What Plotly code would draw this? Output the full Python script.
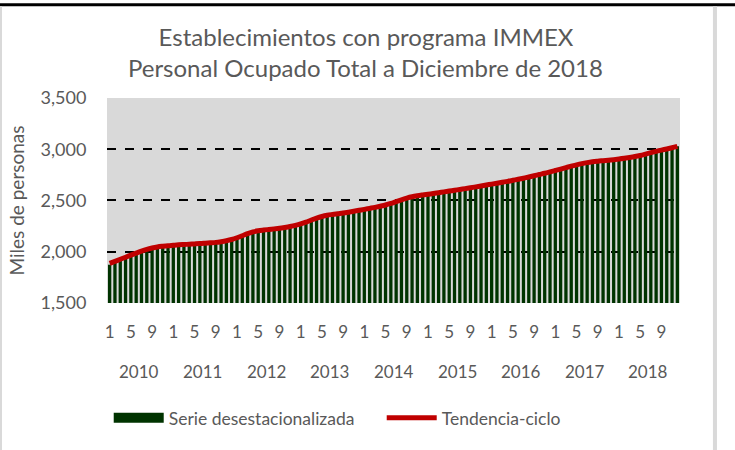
import plotly.graph_objects as go

years = ["2010", "2011", "2012", "2013", "2014", "2015", "2016", "2017", "2018"]
month_labels = ["1", "5", "9"]

serie_desest = [
    1872, 1898, 1921, 1940, 1962, 1983, 2001, 2020, 2030, 2044, 2050, 2055,
    2058, 2063, 2070, 2068, 2074, 2080, 2079, 2088, 2087, 2095, 2104, 2115,
    2133, 2152, 2170, 2193, 2198, 2212, 2213, 2220, 2225, 2238, 2240, 2252,
    2268, 2284, 2305, 2330, 2338, 2352, 2360, 2372, 2373, 2380, 2392, 2398,
    2410, 2418, 2430, 2440, 2450, 2468, 2483, 2503, 2520, 2532, 2540, 2550,
    2556, 2565, 2572, 2580, 2590, 2595, 2604, 2612, 2620, 2628, 2638, 2646,
    2655, 2664, 2675, 2683, 2692, 2702, 2714, 2726, 2738, 2750, 2762, 2774,
    2788, 2803, 2816, 2830, 2844, 2855, 2866, 2874, 2880, 2884, 2890, 2895,
    2900, 2908, 2915, 2925, 2935, 2948, 2962, 2975, 2988, 2998, 3010, 3030,
]

tendencia = [
    1885, 1905, 1925, 1945, 1965, 1985, 2005, 2022, 2035, 2045, 2052, 2058,
    2062, 2066, 2069, 2072, 2075, 2078, 2082, 2086, 2090, 2097, 2106, 2118,
    2135, 2155, 2175, 2192, 2203, 2210, 2216, 2222, 2228, 2236, 2245, 2256,
    2270, 2288, 2308, 2327, 2343, 2355, 2363, 2370, 2377, 2385, 2394, 2403,
    2412, 2422, 2432, 2443, 2455, 2470, 2488, 2506, 2522, 2535, 2545, 2553,
    2560, 2567, 2575, 2583, 2591, 2599, 2607, 2615, 2623, 2632, 2641, 2650,
    2659, 2668, 2677, 2686, 2696, 2706, 2717, 2729, 2741, 2753, 2765, 2778,
    2792, 2806, 2820, 2834, 2847, 2859, 2869, 2877, 2883, 2888, 2893, 2898,
    2904, 2911, 2919, 2928, 2939, 2952, 2966, 2979, 2991, 3002, 3014, 3028,
]

title_line1 = "Establecimientos con programa IMMEX"
title_line2 = "Personal Ocupado Total a Diciembre de 2018"

x = list(range(len(serie_desest)))
tickvals = [i for i in x if i % 4 == 0]
ticktext = [month_labels[(i % 12) // 4] for i in tickvals]

GREEN = "#003300"
RED = "#c00000"
GREY_TXT = "#595959"
FONT = "Lato"

fig = go.Figure()
fig.add_trace(go.Bar(x=x, y=serie_desest, marker=dict(color=GREEN, line=dict(width=0)),
                     name="Serie desestacionalizada", showlegend=False))
# legend proxy for the bar series (wide rectangle swatch)
fig.add_trace(go.Scatter(x=[None], y=[None], mode="lines",
                         line=dict(color=GREEN, width=12),
                         name="Serie desestacionalizada"))
fig.add_trace(go.Scatter(x=x, y=tendencia, mode="lines",
                         line=dict(color=RED, width=5, shape="spline"),
                         name="Tendencia-ciclo"))

annotations = [dict(x=0.452, y=1.151, xref="paper", yref="paper", text=title_line2,
                    showarrow=False, xanchor="center", yanchor="middle",
                    font=dict(family=FONT, size=24, color=GREY_TXT))]
for i, yr in enumerate(years):
    annotations.append(dict(x=i * 12 + 5.5, y=-0.335, xref="x", yref="paper",
                            text=yr, showarrow=False, yanchor="middle",
                            font=dict(family=FONT, size=17, color=GREY_TXT)))

shapes = [
    dict(type="rect", xref="paper", yref="paper", x0=-0.19, x1=1.1, y0=1.448, y1=1.462,
         line=dict(width=0), fillcolor="black"),
    dict(type="line", xref="paper", yref="paper", x0=1.061, x1=1.061, y0=-0.72, y1=1.448,
         line=dict(color="#d9d9d9", width=4)),
    dict(type="line", xref="paper", yref="paper", x0=-0.185, x1=-0.185, y0=-0.72, y1=1.448,
         line=dict(color="#d9d9d9", width=2)),
]

fig.update_layout(
    width=735, height=450,
    margin=dict(l=107, r=55, t=98, b=147, autoexpand=False),
    paper_bgcolor="white",
    plot_bgcolor="#d9d9d9",
    bargap=0.38,
    font=dict(family=FONT, color=GREY_TXT),
    title=dict(text=title_line1,
               x=0.452, xref="paper", xanchor="center", y=0.9156, yanchor="middle",
               font=dict(family=FONT, size=24, color=GREY_TXT)),
    xaxis=dict(range=[-0.5, len(x) - 0.5], tickvals=tickvals, ticktext=ticktext,
               showgrid=False, zeroline=False, showline=False, automargin=False,
               ticks="outside", ticklen=14, tickcolor="rgba(0,0,0,0)",
               tickfont=dict(family=FONT, size=17, color=GREY_TXT)),
    yaxis=dict(range=[1498, 3500], tickvals=[1500, 2000, 2500, 3000, 3500],
               tickformat=",", showgrid=True, gridcolor="black", griddash="dash", gridwidth=1.5,
               zeroline=False, showline=False, automargin=False,
               ticks="outside", ticklen=16, tickcolor="rgba(0,0,0,0)",
               tickfont=dict(family=FONT, size=18, color=GREY_TXT),
               title=dict(text="Miles de personas", standoff=10,
                          font=dict(family=FONT, size=19, color=GREY_TXT))),
    legend=dict(orientation="h", x=0.003, xanchor="left", y=-0.56, yanchor="middle",
                font=dict(family=FONT, size=17.5, color=GREY_TXT), itemwidth=50,
                entrywidth=208, entrywidthmode="pixels",
                tracegroupgap=0, bgcolor="rgba(0,0,0,0)"),
    annotations=annotations,
    shapes=shapes,
)

fig.write_html("out.html", config={"displayModeBar": False},
               post_script="document.body.style.margin='0';")
